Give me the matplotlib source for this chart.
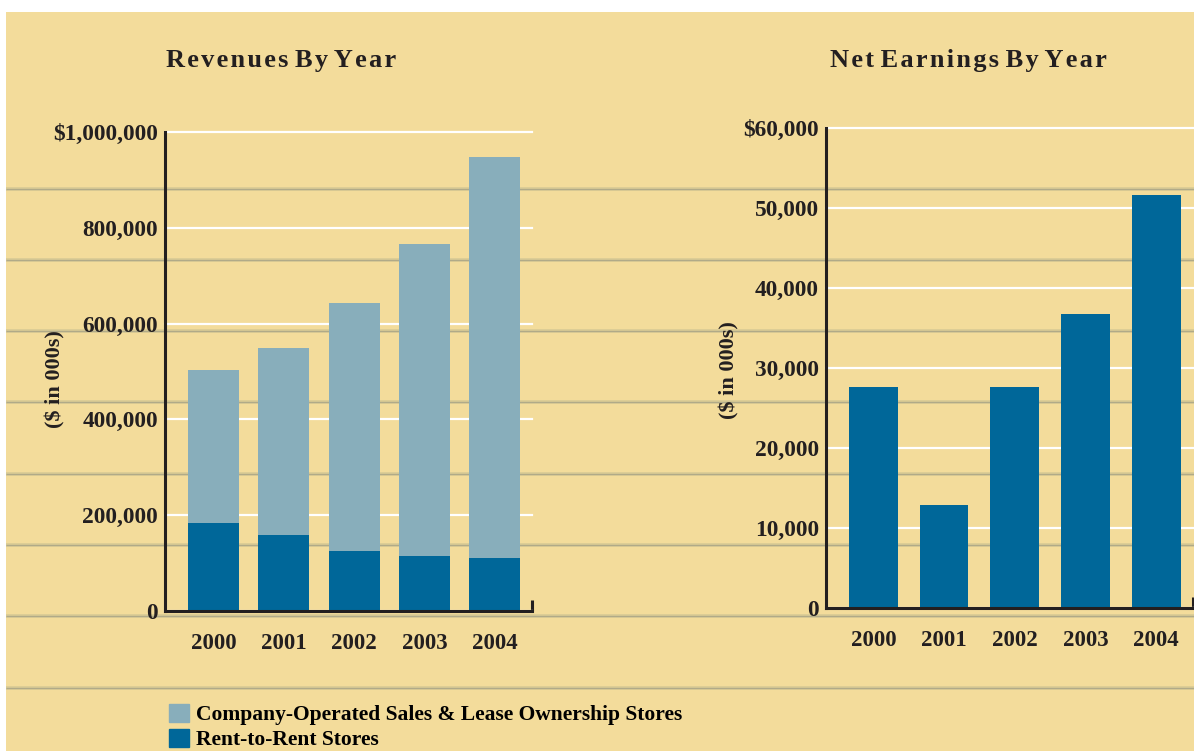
import numpy as np
import matplotlib
matplotlib.use('Agg')
import matplotlib.pyplot as plt
from matplotlib.patches import Rectangle, Patch
from matplotlib.ticker import FixedLocator

plt.rcParams['font.family'] = ['Liberation Serif', 'DejaVu Serif']

# Revenue data ($ in 000s)
years = ['2000', '2001', '2002', '2003', '2004']
rent_to_rent = [184000, 158000, 125000, 114000, 110000]
sales_lease = [319000, 392000, 518000, 653000, 837000]
rev_ticks = [0, 200000, 400000, 600000, 800000, 1000000]
rev_tick_labels = ['0', '200,000', '400,000', '600,000', '800,000', '$1,000,000']

# Net earnings ($ in 000s)
net_earnings = [27600, 12800, 27600, 36700, 51700]
earn_ticks = [0, 10000, 20000, 30000, 40000, 50000, 60000]
earn_tick_labels = ['0', '10,000', '20,000', '30,000', '40,000', '50,000', '$60,000']

DARK = '#006799'
LIGHT = '#88aebb'
INK = '#231f20'
PAPER = '#f3dc9b'

W, H = 1194, 751
fig = plt.figure(figsize=(W / 100, H / 100), dpi=100, facecolor='white')

# paper background with ruled lines
bg = fig.add_axes([0, 0, 1, 1], zorder=-1)
bg.set_xlim(0, W)
bg.set_ylim(H, 0)
bg.axis('off')
bg.add_patch(Rectangle((6, 12), W - 6, H - 12, color=PAPER, lw=0))
for y in np.arange(188.5, H, 71.3):
    bg.plot([6, W], [y, y], color='#d8ca94', lw=2.6, solid_capstyle='butt')
    bg.plot([6, W], [y, y], color='#b0aa88', lw=0.9, solid_capstyle='butt')


def px_axes(left, right, bottom, top):
    return fig.add_axes([left / W, 1 - bottom / H, (right - left) / W, (bottom - top) / H])


def spaced(s):
    # loose tracking for the headings
    return ' '.join('\u200a'.join(word) for word in s.split())


def style(ax, xmin, xmax):
    ax.set_facecolor('none')
    for s in ['top', 'right']:
        ax.spines[s].set_visible(False)
    for s in ['left', 'bottom']:
        ax.spines[s].set_color(INK)
        ax.spines[s].set_linewidth(2.2)
    ax.set_xlim(xmin, xmax)
    ax.set_xticks(range(len(years)))
    ax.set_xticklabels(years)
    ax.tick_params(axis='x', which='major', length=0, pad=16, labelsize=16.5, labelcolor=INK)
    ax.tick_params(axis='y', length=0, pad=5, labelsize=16.8, labelcolor=INK)
    ax.xaxis.set_minor_locator(FixedLocator([xmax]))
    ax.tick_params(axis='x', which='minor', direction='in', length=8, width=2.2, color=INK)
    ax.set_axisbelow(True)
    ax.yaxis.grid(True, color='white', lw=1.6)
    for line in ax.get_ygridlines():
        line.set_clip_on(False)
    for lbl in ax.get_xticklabels() + ax.get_yticklabels():
        lbl.set_fontweight('bold')


# Revenues by year (stacked)
ax1 = px_axes(165, 532, 611, 132)
x = np.arange(len(years))
ax1.bar(x, rent_to_rent, width=0.726, color=DARK, zorder=2)
ax1.bar(x, sales_lease, bottom=rent_to_rent, width=0.726, color=LIGHT, zorder=2)
ax1.set_ylim(0, 1000000)
ax1.set_yticks(rev_ticks)
ax1.set_yticklabels(rev_tick_labels)
style(ax1, -0.69, 4.53)
ax1.set_ylabel('($ in 000s)', fontsize=16, fontweight='bold', color=INK)
ax1.yaxis.set_label_coords(-0.270, 0.485)

# Net earnings by year
ax2 = px_axes(826, 1193, 607.7, 128.3)
ax2.bar(x, net_earnings, width=0.69, color=DARK, zorder=2)
ax2.set_ylim(0, 60000)
ax2.set_yticks(earn_ticks)
ax2.set_yticklabels(earn_tick_labels)
style(ax2, -0.67, 4.52)
ax2.set_ylabel('($ in 000s)', fontsize=16, fontweight='bold', color=INK)
ax2.yaxis.set_label_coords(-0.237, 0.496)

fig.text(281.5 / W, 1 - 60 / H, spaced('Revenues By Year'), ha='center', va='center',
         fontsize=19, fontweight='bold', color=INK)
fig.text(968 / W, 1 - 60 / H, spaced('Net Earnings By Year'), ha='center', va='center',
         fontsize=19, fontweight='bold', color=INK)

handles = [Patch(color=LIGHT), Patch(color=DARK)]
labels = ['Company-Operated Sales & Lease Ownership Stores', 'Rent-to-Rent Stores']
fig.legend(handles, labels, loc='upper left', bbox_to_anchor=(160 / W, 1 - 695 / H),
           frameon=False, handlelength=0.95, handleheight=0.95,
           handletextpad=0.3, labelspacing=0.15, borderaxespad=0,
           prop={'weight': 'bold', 'size': 15.5})

fig.savefig('out.png', dpi=100, facecolor='white')
